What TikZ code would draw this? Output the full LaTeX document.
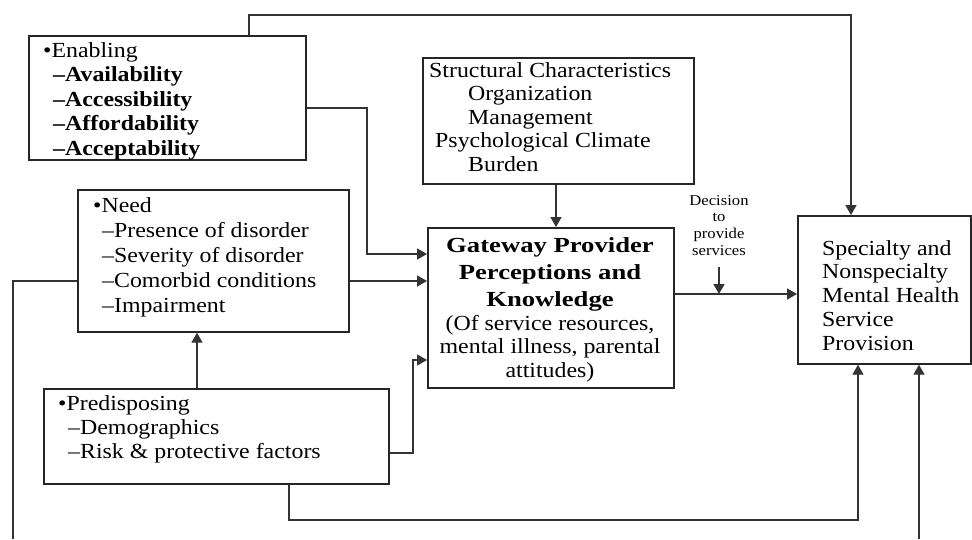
\documentclass[tikz,border=0pt]{standalone}
\usepackage{fontspec}
\setmainfont{Liberation Serif}[FakeStretch=1.11]
\newfontfamily\gwfont{Liberation Serif}[FakeStretch=1.24]
\usetikzlibrary{arrows.meta}
\newcommand\gwb[1]{{\gwfont\bfseries #1}}
\begin{document}
\begin{tikzpicture}[x=1pt,y=-1pt,
  box/.style={draw=black!85, line width=1.7pt, rectangle, inner sep=0pt, anchor=north west},
  txt/.style={inner sep=0pt, anchor=base west, text=black},
  ctxt/.style={inner sep=0pt, anchor=base, text=black},
  mainfont/.style={font=\fontsize{21.5}{#1}\selectfont},
  conn/.style={draw=black!80, line width=1.4pt},
  arr/.style={conn, -{Triangle[length=10pt,width=11pt]}},
]
\useasboundingbox (0,0) rectangle (972,539);
\fill[white] (0,0) rectangle (972,539);

% boxes
\node[box, minimum width=277pt, minimum height=124pt] (enab) at (28,35) {};
\node[box, minimum width=271pt, minimum height=142pt] (need) at (77,189) {};
\node[box, minimum width=345pt, minimum height=95pt] (pre) at (43,388) {};
\node[box, minimum width=271pt, minimum height=126pt] (sc) at (422,57) {};
\node[box, minimum width=246pt, minimum height=160pt] (gw) at (427,227) {};
\node[box, minimum width=173pt, minimum height=148pt] (sp) at (797,215) {};

% texts
\node[txt, mainfont=24.5] (enabT) at (43,57) {\begin{tabular}[t]{@{}l@{}}•Enabling\\
\hspace*{10pt}\textbf{–Availability}\\
\hspace*{10pt}\textbf{–Accessibility}\\
\hspace*{10pt}\textbf{–Affordability}\\
\hspace*{10pt}\textbf{–Acceptability}\end{tabular}};

\node[txt, mainfont=25] (needT) at (93,212) {\begin{tabular}[t]{@{}l@{}}•Need\\
\hspace*{9pt}–Presence of disorder\\
\hspace*{9pt}–Severity of disorder\\
\hspace*{9pt}–Comorbid conditions\\
\hspace*{9pt}–Impairment\end{tabular}};

\node[txt, mainfont=24] (preT) at (58,410) {\begin{tabular}[t]{@{}l@{}}•Predisposing\\
\hspace*{10pt}–Demographics\\
\hspace*{10pt}–Risk \& protective factors\end{tabular}};

\node[txt, mainfont=23.5] (scT) at (429,77) {\begin{tabular}[t]{@{}l@{}}Structural Characteristics\\
\hspace*{39pt}Organization\\
\hspace*{39pt}Management\\
\hspace*{6pt}Psychological Climate\\
\hspace*{39pt}Burden\end{tabular}};

\node[ctxt, mainfont=23.5] (gwT) at (550,252) {\begin{tabular}[t]{@{}c@{}}\gwb{Gateway Provider}\\[3.5pt]
\gwb{Perceptions and}\\[4pt]
\gwb{Knowledge}\\
(Of service resources,\\
mental illness, parental\\
attitudes)\end{tabular}};

\node[txt, mainfont=23.75] (spT) at (822,255) {\begin{tabular}[t]{@{}l@{}}Specialty and\\
Nonspecialty\\
Mental Health\\
Service\\
Provision\end{tabular}};

\node[ctxt, font=\fontsize{15}{16.7}\selectfont] (dec) at (719,205) {\begin{tabular}[t]{@{}c@{}}Decision\\ to\\ provide\\ services\end{tabular}};

% free ends
\coordinate (lb) at (13,539);
\coordinate (rb) at (919,539);

% connectors
\draw[arr] (249,0 |- enab.north) -- (249,15) -| (851,0 |- sp.north);
\draw[arr] (enab.east |- 0,108) -| (367,254) -- (gw.west |- 0,254);
\draw[arr] (need.east |- 0,281) -- (gw.west |- 0,281);
\draw[conn] (need.west |- 0,281) -| (lb);
\draw[arr] (197,0 |- pre.north) -- (197,0 |- need.south);
\draw[arr] (pre.east |- 0,453) -| (413,360) -- (gw.west |- 0,360);
\draw[arr] (289,0 |- pre.south) |- (858,520) -- (858,0 |- sp.south);
\draw[arr] (rb) -- (919,0 |- sp.south);
\draw[arr] (556,0 |- sc.south) -- (556,0 |- gw.north);
\draw[arr] (gw.east |- 0,294) -- (sp.west |- 0,294);
\draw[arr] (dec.south |- 0,267) -- (dec.south |- 0,294);
\end{tikzpicture}
\end{document}
